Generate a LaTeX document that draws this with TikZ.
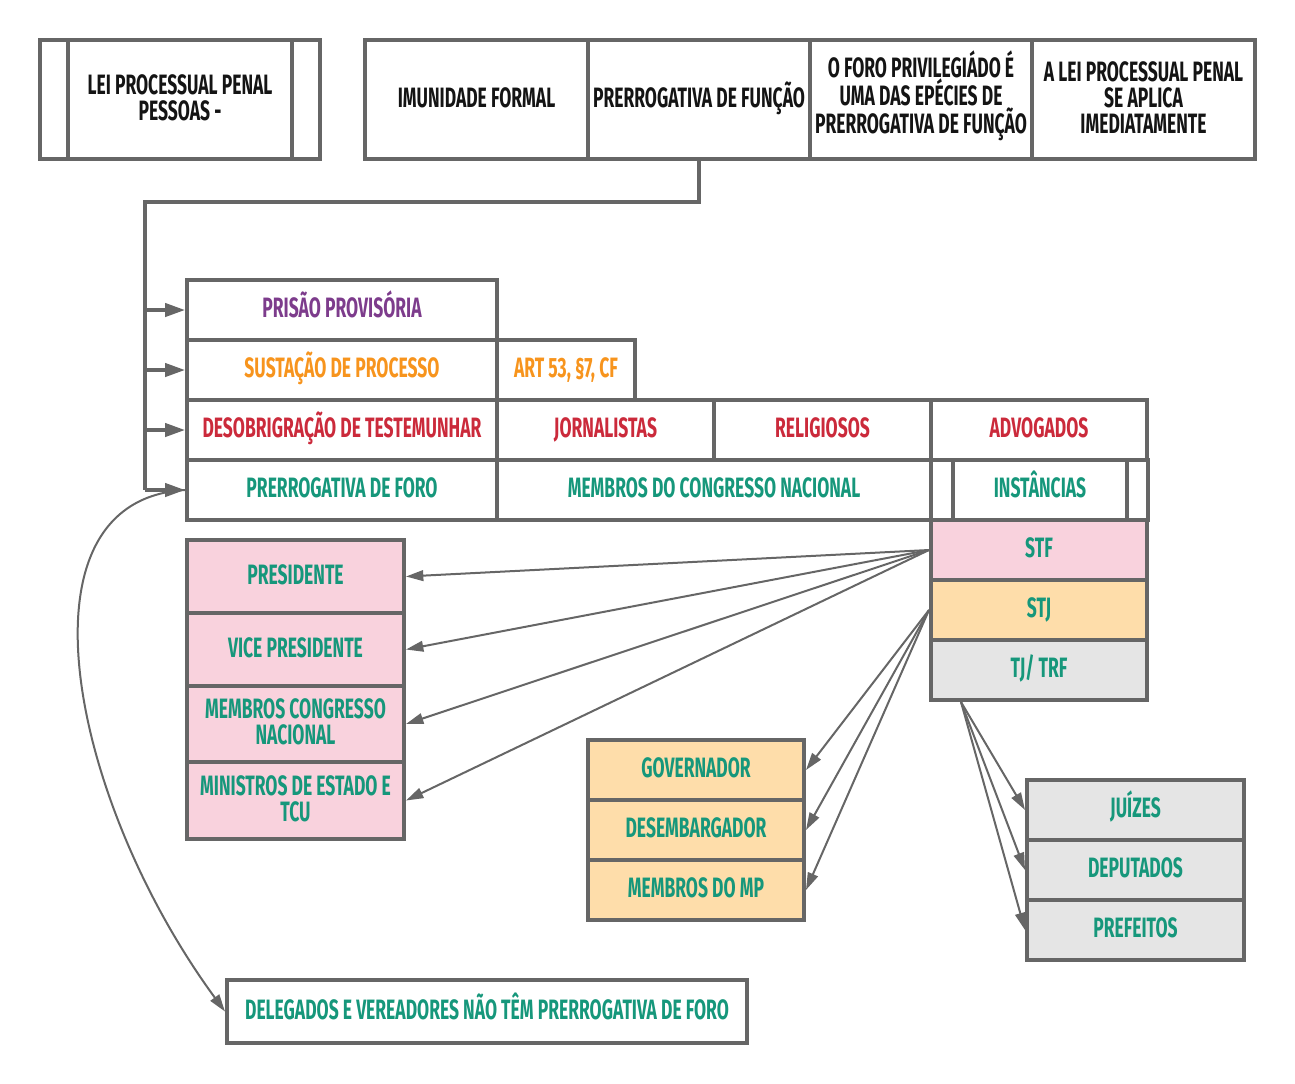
\documentclass[tikz,border=0pt]{standalone}
\usepackage{fontspec}
\setmainfont{Fira Sans}[FakeStretch=0.625]
\usetikzlibrary{arrows.meta}
\definecolor{lgray}{HTML}{666666}
\definecolor{tblack}{HTML}{141414}
\definecolor{tpurple}{HTML}{7D3C8C}
\definecolor{torange}{HTML}{F7941D}
\definecolor{tred}{HTML}{CB2A3B}
\definecolor{tgreen}{HTML}{16977B}
\definecolor{fpink}{HTML}{F9D2DD}
\definecolor{forange}{HTML}{FEDDAA}
\definecolor{fgray}{HTML}{E5E5E5}
\tikzset{
  cellbox/.style={draw=lgray, line width=3pt, rectangle, inner sep=0pt, align=center,
    text depth=3pt,
    font=\fontsize{21pt}{19.5pt}\selectfont\bfseries},
  blk/.style={text=tblack},
  pur/.style={text=tpurple},
  org/.style={text=torange},
  red/.style={text=tred},
  grn/.style={text=tgreen},
  pk/.style={fill=fpink},
  og/.style={fill=forange},
  gy/.style={fill=fgray},
  busline/.style={draw=lgray, line width=2.5pt},
  busarrow/.style={draw=lgray, line width=2.5pt, -{Triangle[length=15pt,width=10pt]}},
  thinarrow/.style={draw=lgray, line width=1.5pt, -{Triangle[length=13pt,width=8pt]}},
}
% #1 text height (caps height + extra lines), #2 name, #3..#6 box, #7 style, #8 text
\newcommand\cell[8][14.5pt]{%
  \node[cellbox,#7,text height=#1,minimum width={(#5-#3)*0.75pt},minimum height={(#6-#4)*0.75pt}]
    (#2) at ({(#3+#5)/2},{(#4+#6)/2}) {#8};}
\begin{document}
\begin{tikzpicture}[x=0.75pt,y=-0.75pt]
\useasboundingbox (0,0) rectangle (1295,1083);
% top left box
\cell{lpl}{40}{40}{68}{159}{blk}{}
\cell[34pt]{lp}{68}{40}{292}{159}{blk}{LEI PROCESSUAL PENAL\\PESSOAS -}
\cell{lpr}{292}{40}{320}{159}{blk}{}
% top row
\cell{imf}{365}{40}{588}{159}{blk}{IMUNIDADE FORMAL}
\cell{pf}{588}{40}{810}{159}{blk}{PRERROGATIVA DE FUNÇÃO}
\cell[53.5pt]{foro}{810}{40}{1032}{159}{blk}{O FORO PRIVILEGIÁDO É\\UMA DAS EPÉCIES DE\\PRERROGATIVA DE FUNÇÃO}
\cell[53.5pt]{lei}{1032}{40}{1255}{159}{blk}{A LEI PROCESSUAL PENAL\\SE APLICA\\IMEDIATAMENTE}
% table
\cell{pris}{187}{280}{497}{340}{pur}{PRISÃO PROVISÓRIA}
\cell{sust}{187}{340}{497}{400}{org}{SUSTAÇÃO DE PROCESSO}
\cell{art}{497}{340}{635}{400}{org}{ART 53, §7, CF}
\cell{deso}{187}{400}{497}{460}{red}{DESOBRIGRAÇÃO DE TESTEMUNHAR}
\cell{jorn}{497}{400}{714}{460}{red}{JORNALISTAS}
\cell{reli}{714}{400}{931}{460}{red}{RELIGIOSOS}
\cell{advo}{931}{400}{1147}{460}{red}{ADVOGADOS}
\cell{pforo}{187}{460}{497}{520}{grn}{PRERROGATIVA DE FORO}
\cell{memb}{497}{460}{931}{520}{grn}{MEMBROS DO CONGRESSO NACIONAL}
\cell{instl}{931}{460}{953}{520}{grn}{}
\cell{inst}{953}{460}{1127}{520}{grn}{INSTÂNCIAS}
\cell{instr}{1127}{460}{1148}{520}{grn}{}
% instances
\cell{stf}{931}{520}{1147}{580}{grn,pk}{STF}
\cell{stj}{931}{580}{1147}{640}{grn,og}{STJ}
\cell{tj}{931}{640}{1147}{700}{grn,gy}{TJ/ TRF}
% pink stack
\cell{pres}{187}{540}{404}{613}{grn,pk}{PRESIDENTE}
\cell{vice}{187}{613}{404}{686}{grn,pk}{VICE PRESIDENTE}
\cell[34pt]{mcn}{187}{686}{404}{762}{grn,pk}{MEMBROS CONGRESSO\\NACIONAL}
\cell[34pt]{mini}{187}{762}{404}{839}{grn,pk}{MINISTROS DE ESTADO E\\TCU}
% orange stack
\cell{gov}{588}{740}{804}{800}{grn,og}{GOVERNADOR}
\cell{des}{588}{800}{804}{860}{grn,og}{DESEMBARGADOR}
\cell{mp}{588}{860}{804}{920}{grn,og}{MEMBROS DO MP}
% gray stack
\cell{juiz}{1027}{780}{1244}{840}{grn,gy}{JUÍZES}
\cell{dep}{1027}{840}{1244}{900}{grn,gy}{DEPUTADOS}
\cell{pref}{1027}{900}{1244}{960}{grn,gy}{PREFEITOS}
% bottom
\cell{dele}{227}{980}{747}{1043}{grn}{DELEGADOS E VEREADORES NÃO TÊM PRERROGATIVA DE FORO}
% bus connector
\coordinate (bustop) at (145,202);
\coordinate (busbot) at (145,490);
\draw[busline] (pf.south) |- (bustop) -- (busbot);
\draw[busarrow] (bustop |- pris.west) -- (pris.west);
\draw[busarrow] (bustop |- sust.west) -- (sust.west);
\draw[busarrow] (bustop |- deso.west) -- (deso.west);
\draw[busarrow] (busbot) -- (pforo.west);
% STF arrows
\draw[thinarrow] (stf.west) -- (pres.east);
\draw[thinarrow] (stf.west) -- (vice.east);
\draw[thinarrow] (stf.west) -- (mcn.east);
\draw[thinarrow] (stf.west) -- (mini.east);
% STJ arrows
\draw[thinarrow] (stj.west) -- (gov.east);
\draw[thinarrow] (stj.west) -- (des.east);
\draw[thinarrow] (stj.west) -- (mp.east);
% TJ arrows
\coordinate (tjo) at ([xshift=24pt]tj.south west);
\draw[thinarrow] (tjo) -- (juiz.west);
\draw[thinarrow] (tjo) -- (dep.west);
\draw[thinarrow] (tjo) -- (pref.west);
% curve
\draw[thinarrow] (pforo.west) .. controls (10,500) and (70,800) .. (dele.west);
\end{tikzpicture}
\end{document}
